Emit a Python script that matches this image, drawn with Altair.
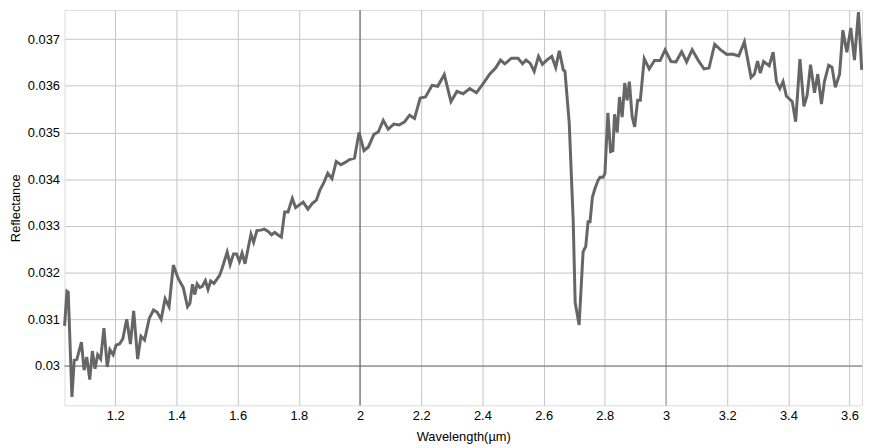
import altair as alt
import pandas as pd

wavelength = [
    1.0343, 1.0421, 1.0463, 1.0583, 1.0658, 1.0745, 1.0894, 1.0982, 1.1069, 1.1166,
    1.1251, 1.1338, 1.1426, 1.1523, 1.1630, 1.1737, 1.1824, 1.1931, 1.2029, 1.2139,
    1.2245, 1.2375, 1.2495, 1.2602, 1.2732, 1.2839, 1.2958, 1.3111, 1.3250, 1.3370,
    1.3500, 1.3629, 1.3759, 1.3898, 1.4060, 1.4222, 1.4362, 1.4439, 1.4524, 1.4601,
    1.4676, 1.4763, 1.4838, 1.4945, 1.5032, 1.5120, 1.5227, 1.5411, 1.5496, 1.5658,
    1.5755, 1.5865, 1.5962, 1.6060, 1.6144, 1.6241, 1.6351, 1.6436, 1.6523, 1.6630,
    1.6760, 1.6870, 1.6999, 1.7106, 1.7213, 1.7356, 1.7430, 1.7537, 1.7647, 1.7787,
    1.7894, 1.8143, 1.8296, 1.8435, 1.8574, 1.8684, 1.8814, 1.8944, 1.9083, 1.9222,
    1.9375, 1.9514, 1.9657, 1.9819, 1.9968, 2.0130, 2.0272, 2.0454, 2.0596, 2.0758,
    2.0920, 2.1102, 2.1277, 2.1458, 2.1620, 2.1782, 2.1967, 2.2139, 2.2356, 2.2540,
    2.2754, 2.2972, 2.3166, 2.3370, 2.3587, 2.3804, 2.4018, 2.4235, 2.4430, 2.4592,
    2.4731, 2.4948, 2.5165, 2.5314, 2.5425, 2.5564, 2.5693, 2.5833, 2.5962, 2.6105,
    2.6267, 2.6397, 2.6513, 2.6643, 2.6698, 2.6837, 2.6967, 2.7032, 2.7161, 2.7291,
    2.7378, 2.7453, 2.7518, 2.7596, 2.7680, 2.7777, 2.7842, 2.7939, 2.8004, 2.8101,
    2.8189, 2.8263, 2.8318, 2.8406, 2.8480, 2.8568, 2.8652, 2.8730, 2.8804, 2.8892,
    2.8976, 2.9073, 2.9161, 2.9290, 2.9452, 2.9624, 2.9809, 2.9971, 3.0165, 3.0327,
    3.0512, 3.0674, 3.0855, 3.1050, 3.1244, 3.1406, 3.1591, 3.1786, 3.1990, 3.2165,
    3.2378, 3.2563, 3.2780, 3.2887, 3.2994, 3.3082, 3.3189, 3.3373, 3.3503, 3.3610,
    3.3720, 3.3827, 3.3934, 3.4128, 3.4239, 3.4378, 3.4508, 3.4614, 3.4725, 3.4854,
    3.4961, 3.5081, 3.5178, 3.5318, 3.5425, 3.5535, 3.5674, 3.5781, 3.5911, 3.6040,
    3.6160, 3.6290, 3.6397,
]

reflectance = [
    0.03086, 0.03160, 0.03158, 0.02934, 0.03012, 0.03014, 0.03051, 0.02991, 0.03019, 0.02971,
    0.03032, 0.02994, 0.03024, 0.03015, 0.03081, 0.02998, 0.03035, 0.03024, 0.03045, 0.03047,
    0.03058, 0.03100, 0.03047, 0.03118, 0.03015, 0.03064, 0.03056, 0.03102, 0.03120, 0.03115,
    0.03100, 0.03144, 0.03127, 0.03216, 0.03187, 0.03168, 0.03127, 0.03134, 0.03175, 0.03153,
    0.03176, 0.03168, 0.03170, 0.03183, 0.03164, 0.03182, 0.03177, 0.03194, 0.03210, 0.03244,
    0.03217, 0.03240, 0.03240, 0.03224, 0.03242, 0.03219, 0.03255, 0.03282, 0.03265, 0.03290,
    0.03291, 0.03293, 0.03288, 0.03281, 0.03286, 0.03279, 0.03276, 0.03330, 0.03330, 0.03359,
    0.03339, 0.03351, 0.03336, 0.03348, 0.03355, 0.03376, 0.03392, 0.03413, 0.03401, 0.03438,
    0.03431, 0.03436, 0.03442, 0.03445, 0.03500, 0.03461, 0.03469, 0.03496, 0.03501, 0.03526,
    0.03507, 0.03518, 0.03516, 0.03523, 0.03537, 0.03530, 0.03574, 0.03576, 0.03601, 0.03599,
    0.03624, 0.03566, 0.03588, 0.03583, 0.03594, 0.03585, 0.03604, 0.03625, 0.03638, 0.03655,
    0.03647, 0.03659, 0.03659, 0.03647, 0.03655, 0.03648, 0.03631, 0.03663, 0.03646, 0.03655,
    0.03663, 0.03639, 0.03675, 0.03634, 0.03631, 0.03521, 0.03312, 0.03136, 0.03088, 0.03245,
    0.03256, 0.03309, 0.03309, 0.03362, 0.03380, 0.03397, 0.03404, 0.03404, 0.03412, 0.03542,
    0.03459, 0.03461, 0.03539, 0.03500, 0.03576, 0.03533, 0.03606, 0.03569, 0.03609, 0.03535,
    0.03512, 0.03569, 0.03569, 0.03658, 0.03636, 0.03654, 0.03654, 0.03677, 0.03652, 0.03651,
    0.03673, 0.03651, 0.03677, 0.03655, 0.03636, 0.03638, 0.03689, 0.03677, 0.03667, 0.03668,
    0.03664, 0.03694, 0.03618, 0.03625, 0.03653, 0.03627, 0.03652, 0.03643, 0.03672, 0.03609,
    0.03594, 0.03609, 0.03578, 0.03566, 0.03523, 0.03657, 0.03556, 0.03580, 0.03645, 0.03585,
    0.03625, 0.03561, 0.03609, 0.03644, 0.03640, 0.03597, 0.03625, 0.03719, 0.03672, 0.03724,
    0.03655, 0.03758, 0.03634,
]

x_ticks = [1.2, 1.4, 1.6, 1.8, 2.0, 2.2, 2.4, 2.6, 2.8, 3.0, 3.2, 3.4, 3.6]
y_ticks = [0.030, 0.031, 0.032, 0.033, 0.034, 0.035, 0.036, 0.037]
x_domain = [1.034, 3.6407]
y_domain = [0.029158, 0.037622]

dark_x = [2.0]
mid_x = [3.0]
dark_y = [0.030]

df = pd.DataFrame({"wl": wavelength, "r": reflectance})

FONT = "Liberation Sans"

xscale = alt.Scale(domain=x_domain, nice=False, zero=False)
yscale = alt.Scale(domain=y_domain, nice=False, zero=False)

base = alt.Chart(df).mark_line(color="#666666", strokeWidth=3).encode(
    x=alt.X("wl:Q", scale=xscale,
            axis=alt.Axis(title="Wavelength(µm)", values=x_ticks, format="~g",
                          grid=True, gridColor="#c4c4c4", ticks=False, domain=False,
                          labelPadding=4, labelFontSize=13, labelColor="#000000",
                          titleFontSize=13, titleFontWeight="normal", titleColor="#000000",
                          titlePadding=8, labelFont=FONT, titleFont=FONT)),
    y=alt.Y("r:Q", scale=yscale,
            axis=alt.Axis(title="Reflectance", values=y_ticks, format="~g",
                          grid=True, gridColor="#c4c4c4", ticks=False, domain=False,
                          labelPadding=5, labelFontSize=13, labelColor="#000000",
                          titleFontSize=13, titleFontWeight="normal", titleColor="#000000",
                          titlePadding=5, labelFont=FONT, titleFont=FONT)),
)

rule_x_dark = alt.Chart(pd.DataFrame({"v": dark_x})).mark_rule(color="#555555", strokeWidth=1).encode(
    x=alt.X("v:Q", scale=xscale))
rule_x_mid = alt.Chart(pd.DataFrame({"v": mid_x})).mark_rule(color="#999999", strokeWidth=1).encode(
    x=alt.X("v:Q", scale=xscale))
rule_y_dark = alt.Chart(pd.DataFrame({"v": dark_y})).mark_rule(color="#707070", strokeWidth=1).encode(
    y=alt.Y("v:Q", scale=yscale))

chart = alt.layer(rule_x_dark, rule_x_mid, rule_y_dark, base).properties(
    width=805, height=399,
    autosize=alt.AutoSizeParams(type="none"),
    padding={"left": 57, "top": 0, "right": 1, "bottom": 41},
).configure_view(stroke="#000000", strokeWidth=1.2).configure(background="#ffffff")

chart.save("out.html", embed_options={"renderer": "svg", "actions": False})
